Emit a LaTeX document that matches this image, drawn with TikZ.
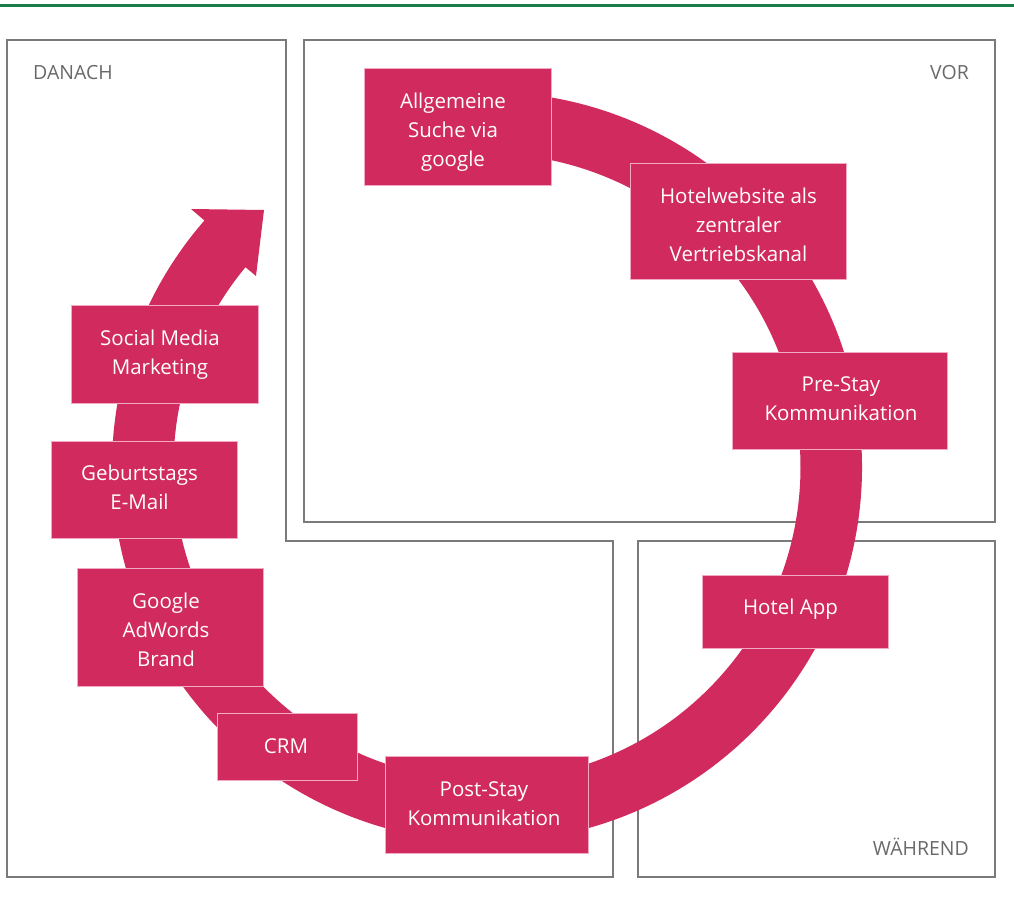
\documentclass[tikz,border=0pt]{standalone}
\usepackage{fontspec}
\setmainfont{Open Sans}
\usetikzlibrary{calc}
\definecolor{ringpink}{RGB}{209,42,94}
\definecolor{boxedge}{RGB}{240,170,195}
\definecolor{framegray}{RGB}{122,122,122}
\definecolor{labelgray}{RGB}{105,105,105}
\definecolor{topgreen}{RGB}{24,125,70}
\tikzset{
  frame/.style={draw=framegray, line width=2pt},
  pinkbox/.style={fill=ringpink, draw=boxedge, line width=1pt, inner sep=0pt, anchor=north west},
  boxtext/.style={text=white, align=center, inner sep=0pt, font=\fontsize{20.5}{29}\selectfont},
  zonelabel/.style={text=labelgray, inner sep=0pt, font=\fontsize{19.5}{24}\selectfont},
}
\begin{document}
\begin{tikzpicture}[x=1pt,y=1pt]
\useasboundingbox (0,0) rectangle (1014,-916);
% top green rule
\draw[topgreen, line width=3pt] (0,-5.3) -- (1014,-5.3);
% zone frames
\draw[frame] (7,-40) -- (286,-40) -- (286,-541) -- (613,-541) -- (613,-877) -- (7,-877) -- cycle;
\draw[frame] (304,-40) rectangle (995,-522);
\draw[frame] (638,-541) rectangle (995,-877);
\node[zonelabel, anchor=base west] (danach) at (33,-79) {DANACH};
\node[zonelabel, anchor=base east] (vor) at (969,-79) {VOR};
\node[zonelabel, anchor=base east] (waehrend) at (969,-855) {WÄHREND};
% ring with arrow
\coordinate (C) at (487,-467);
\fill[ringpink] ($(C)+(95:375pt)$) arc[start angle=95, end angle=-221.1, radius=375pt]
  -- (191,-209) -- (264,-210) -- (256,-276)
  -- ($(C)+(-219.6:313.5pt)$) arc[start angle=-219.6, end angle=95, radius=313.5pt] -- cycle;
% boxes
\node[pinkbox, minimum width=187pt, minimum height=117pt] (allg) at (364,-68) {};
\node[pinkbox, minimum width=216pt, minimum height=116pt] (hweb) at (630,-163) {};
\node[pinkbox, minimum width=215pt, minimum height=97pt] (pre) at (732,-352) {};
\node[pinkbox, minimum width=186pt, minimum height=73pt] (app) at (702,-575) {};
\node[pinkbox, minimum width=203pt, minimum height=97pt] (post) at (385,-756) {};
\node[pinkbox, minimum width=140pt, minimum height=67pt] (crm) at (217,-713) {};
\node[pinkbox, minimum width=186pt, minimum height=118pt] (goog) at (77,-568) {};
\node[pinkbox, minimum width=186pt, minimum height=97pt] (geb) at (51,-441) {};
\node[pinkbox, minimum width=187pt, minimum height=98pt] (soc) at (71,-305) {};
% texts
\node[boxtext] (tallg) at ($(allg.center)+(-5,-5)$) {Allgemeine\\Suche via\\google};
\node[boxtext] (thweb) at ($(hweb.center)+(0,-3)$) {Hotelwebsite als\\zentraler\\Vertriebskanal};
\node[boxtext] (tpre) at ($(pre.center)+(1,2)$) {Pre-Stay\\Kommunikation};
\node[boxtext] (tapp) at ($(app.center)+(-5,3)$) {Hotel App};
\node[boxtext] (tpost) at ($(post.center)+(-3,1.5)$) {Post-Stay\\Kommunikation};
\node[boxtext] (tcrm) at ($(crm.center)+(-1.5,1)$) {CRM};
\node[boxtext] (tgoog) at ($(goog.center)+(-4.5,-2)$) {Google\\AdWords\\Brand};
\node[boxtext] (tgeb) at ($(geb.center)+(-5,3)$) {Geburtstags\\E-Mail};
\node[boxtext] (tsoc) at ($(soc.center)+(-5,0)$) {Social Media\\Marketing};
\end{tikzpicture}
\end{document}
